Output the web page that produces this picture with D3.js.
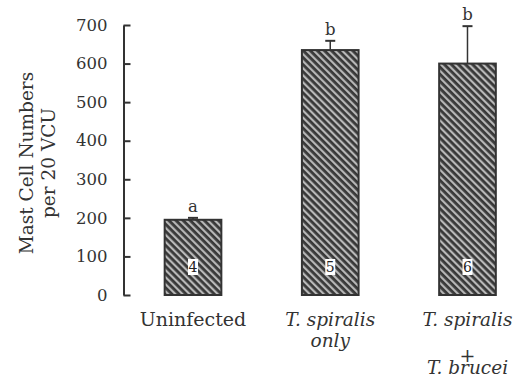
<!DOCTYPE html>
<html>
<head>
<meta charset="utf-8">
<script src="https://cdn.jsdelivr.net/npm/d3@7"></script>
<style>
  body { margin: 0; background: #fff; }
  svg { display: block; font-family: "DejaVu Serif", serif; }
</style>
</head>
<body>
<svg width="527" height="376"></svg>
<script>
// data
const groups = ["Uninfected", "T. spiralis only", "T. spiralis + T. brucei"];
const groupLines = [["Uninfected"], ["T. spiralis", "only"], ["T. spiralis", "+", "T. brucei"]];
const italicLines = [[false], [true, true], [true, false, true]];
const means = [195, 635, 600];
const errors = [5, 24, 97];
const sigLetters = ["a", "b", "b"];
const nAnimals = [4, 5, 6];
const yTicks = [0, 100, 200, 300, 400, 500, 600, 700];

const svg = d3.select("svg");
const margin = {top: 25, left: 123.5, bottom: 81};
const height = 376;
const ink = "#333";

const y = d3.scaleLinear().domain([0, 700]).range([height - margin.bottom, margin.top]);
const x = d3.scaleBand().domain(groups).range([123.5, 537]).paddingInner(0.587).paddingOuter(0.3);

// hatch fill, stripes running top-left to bottom-right
const defs = svg.append("defs");
const pat = defs.append("pattern")
  .attr("id", "hatch")
  .attr("patternUnits", "userSpaceOnUse")
  .attr("width", 5).attr("height", 5)
  .attr("patternTransform", "rotate(45)");
pat.append("rect").attr("width", 5).attr("height", 5).attr("fill", "#b8b8b8");
pat.append("rect").attr("width", 5).attr("height", 2.8).attr("fill", "#383838");

// y axis, ticks pointing inward
const yAxis = svg.append("g")
  .attr("transform", "translate(" + margin.left + ",0)")
  .call(d3.axisLeft(y).tickValues(yTicks).tickSize(-7).tickSizeOuter(0).tickPadding(16));
yAxis.select(".domain").attr("stroke", ink).attr("stroke-width", 2);
yAxis.selectAll(".tick line").attr("stroke", ink).attr("stroke-width", 2);
yAxis.selectAll(".tick text")
  .attr("fill", ink)
  .attr("font-size", 16.5)
  .attr("font-family", "DejaVu Serif, serif");

// y title
const title = svg.append("text")
  .attr("transform", "translate(33,163) rotate(-90)")
  .attr("text-anchor", "middle")
  .attr("fill", ink)
  .style("font-size", "18.5px");
title.append("tspan").attr("x", 0).attr("dy", 0).text("Mast Cell Numbers");
title.append("tspan").attr("x", 0).attr("dy", 22).text("per 20 VCU");

const data = groups.map((g, i) => ({g, i, m: means[i], e: errors[i]}));

// error bars (behind bars)
svg.selectAll(".err")
  .data(data)
  .enter().append("line")
  .attr("class", "err")
  .attr("x1", d => x(d.g) + x.bandwidth() / 2)
  .attr("x2", d => x(d.g) + x.bandwidth() / 2)
  .attr("y1", d => y(d.m))
  .attr("y2", d => y(d.m + d.e))
  .attr("stroke", ink).attr("stroke-width", 1.5);
svg.selectAll(".cap")
  .data(data)
  .enter().append("line")
  .attr("class", "cap")
  .attr("x1", d => x(d.g) + x.bandwidth() / 2 - 5)
  .attr("x2", d => x(d.g) + x.bandwidth() / 2 + 5)
  .attr("y1", d => y(d.m + d.e))
  .attr("y2", d => y(d.m + d.e))
  .attr("stroke", ink).attr("stroke-width", 2);

svg.selectAll(".bar")
  .data(data)
  .enter().append("rect")
  .attr("class", "bar")
  .attr("x", d => x(d.g))
  .attr("y", d => y(d.m))
  .attr("width", x.bandwidth())
  .attr("height", d => y(0) - y(d.m))
  .attr("fill", "url(#hatch)")
  .attr("stroke", ink)
  .attr("stroke-width", 2);

// significance letters
svg.selectAll(".sig")
  .data(data)
  .enter().append("text")
  .attr("class", "sig")
  .attr("x", d => x(d.g) + x.bandwidth() / 2)
  .attr("y", d => y(d.m + d.e) - 6)
  .attr("text-anchor", "middle")
  .attr("fill", ink)
  .style("font-size", "16.5px")
  .text((d, i) => sigLetters[i]);

// n labels inside bars
const nl = svg.selectAll(".nlab")
  .data(data)
  .enter().append("g")
  .attr("class", "nlab")
  .attr("transform", d => "translate(" + (x(d.g) + x.bandwidth() / 2) + "," + (y(0) - 28) + ")");
nl.append("rect").attr("x", -5).attr("y", -8).attr("width", 10).attr("height", 16).attr("fill", "#fff");
nl.append("text")
  .attr("text-anchor", "middle")
  .attr("dy", "0.36em")
  .attr("fill", "#222")
  .style("font-size", "14px")
  .text((d, i) => nAnimals[i]);

// category labels, one text element per line
const lineY = [[326], [326, 347], [326, 362, 374]];
const lineSize = [[19], [18.5, 18.5], [18.5, 19, 18.5]];
groupLines.forEach((lines, i) => {
  lines.forEach((ln, j) => {
    svg.append("text")
      .attr("class", "cat")
      .attr("x", x(groups[i]) + x.bandwidth() / 2)
      .attr("y", lineY[i][j])
      .attr("text-anchor", "middle")
      .attr("fill", ink)
      .attr("font-size", lineSize[i][j])
      .attr("font-style", italicLines[i][j] ? "italic" : "normal")
      .text(ln);
  });
});
</script>
</body>
</html>
